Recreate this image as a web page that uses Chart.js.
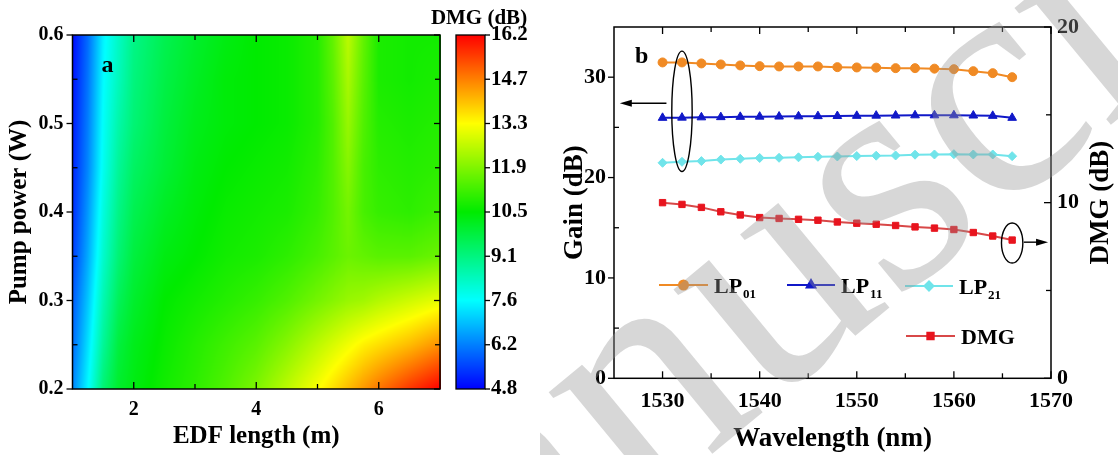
<!DOCTYPE html>
<html>
<head>
<meta charset="utf-8">
<script src="https://cdn.jsdelivr.net/npm/chart.js@4.4.1/dist/chart.umd.min.js"></script>
<style>
  html, body { margin: 0; padding: 0; background: #fff; }
  #wrap { position: relative; width: 1118px; height: 455px; overflow: hidden; }
  #boxA { position: absolute; left: 0; top: 0; width: 560px; height: 455px; }
  #boxB { position: absolute; left: 540px; top: 0; width: 578px; height: 455px; }
</style>
</head>
<body>
<div id="wrap">
  <div id="boxA"><canvas id="chartA" width="560" height="455"></canvas></div>
  <div id="boxB"><canvas id="chartB" width="578" height="455"></canvas></div>
</div>
<script>
/* ---- panel a : DMG map (EDF length x pump power) ---- */
var edfLength = [1, 1.25, 1.5, 1.75, 2, 2.5, 3, 3.5, 4, 4.5, 5, 5.25, 5.5, 5.75, 6, 6.5, 7];
var pumpPower = [0.2, 0.25, 0.3, 0.35, 0.4, 0.45, 0.5, 0.55, 0.6];
// one row per pump power, one column per EDF length
var dmgMap = [
  [6.3, 7.6, 9.2, 10.0, 10.3, 10.7, 11.0, 11.4, 11.9, 12.6, 13.3, 13.7, 14.1, 14.5, 14.9, 15.6, 16.2],
  [6.0, 7.3, 8.8, 9.8, 10.2, 10.6, 10.9, 11.2, 11.5, 12.0, 12.6, 12.9, 13.2, 13.5, 13.7, 14.1, 14.6],
  [5.8, 7.0, 8.5, 9.5, 10.0, 10.5, 10.7, 10.9, 11.1, 11.4, 11.8, 12.0, 12.2, 12.3, 12.5, 12.8, 13.1],
  [5.5, 6.7, 8.2, 9.2, 9.8, 10.3, 10.5, 10.7, 10.8, 11.0, 11.3, 11.5, 11.7, 11.6, 11.5, 11.5, 11.7],
  [5.3, 6.5, 8.0, 9.0, 9.6, 10.1, 10.4, 10.6, 10.7, 10.8, 11.1, 11.4, 11.8, 11.3, 11.1, 11.0, 11.2],
  [5.2, 6.3, 7.8, 8.8, 9.4, 9.9, 10.3, 10.5, 10.6, 10.7, 11.0, 11.4, 12.0, 11.3, 11.0, 10.9, 11.0],
  [5.1, 6.2, 7.7, 8.6, 9.2, 9.8, 10.2, 10.4, 10.5, 10.6, 10.9, 11.4, 12.2, 11.4, 10.9, 10.8, 10.9],
  [5.0, 6.1, 7.6, 8.4, 9.1, 9.7, 10.1, 10.4, 10.5, 10.6, 10.9, 11.5, 12.4, 11.5, 10.8, 10.7, 10.8],
  [4.9, 6.0, 7.5, 8.3, 9.0, 9.6, 10.0, 10.3, 10.5, 10.6, 10.9, 11.6, 12.6, 11.6, 10.8, 10.7, 10.7]
];
var edfTicks = [2, 4, 6];
var pumpTicks = [0.2, 0.3, 0.4, 0.5, 0.6];
var cbLabels = ['4.8', '6.2', '7.6', '9.1', '10.5', '11.9', '13.3', '14.7', '16.2'];

/* ---- panel b : gain and DMG vs wavelength ---- */
var wavelength = [1530, 1532, 1534, 1536, 1538, 1540, 1542, 1544, 1546, 1548, 1550, 1552, 1554, 1556, 1558, 1560, 1562, 1564, 1566];
var gainLP01 = [31.47, 31.47, 31.37, 31.27, 31.17, 31.1, 31.07, 31.07, 31.07, 31.0, 30.97, 30.95, 30.9, 30.9, 30.85, 30.8, 30.6, 30.4, 30.0];
var gainLP11 = [25.95, 25.97, 26.0, 26.02, 26.05, 26.07, 26.08, 26.1, 26.12, 26.13, 26.15, 26.17, 26.18, 26.2, 26.2, 26.2, 26.18, 26.15, 25.95];
var gainLP21 = [21.47, 21.57, 21.64, 21.79, 21.87, 21.95, 21.97, 22.02, 22.07, 22.1, 22.14, 22.18, 22.2, 22.28, 22.3, 22.33, 22.3, 22.3, 22.13];
var dmgCurve = [10.0, 9.9, 9.73, 9.48, 9.3, 9.15, 9.1, 9.05, 9.0, 8.9, 8.83, 8.77, 8.7, 8.62, 8.55, 8.47, 8.3, 8.1, 7.87];
var waveTicks = [1530, 1540, 1550, 1560, 1570];
var gainTicks = [0, 10, 20, 30];
var dmgTicks = [0, 10, 20];

var FONT = '"Liberation Serif", "Times New Roman", serif';

/* ---- helpers ---- */
function findCell(arr, v) {
  for (var i = 0; i < arr.length - 2; i++) if (v < arr[i + 1]) return i;
  return arr.length - 2;
}

function sampleMap(x, y) {
  var i = findCell(edfLength, x), j = findCell(pumpPower, y);
  var tx = (x - edfLength[i]) / (edfLength[i + 1] - edfLength[i]);
  var ty = (y - pumpPower[j]) / (pumpPower[j + 1] - pumpPower[j]);
  tx = Math.max(0, Math.min(1, tx)); ty = Math.max(0, Math.min(1, ty));
  var a = dmgMap[j][i], b = dmgMap[j][i + 1], c = dmgMap[j + 1][i], d = dmgMap[j + 1][i + 1];
  return (a * (1 - tx) + b * tx) * (1 - ty) + (c * (1 - tx) + d * tx) * ty;
}

var CB_MIN = parseFloat(cbLabels[0]);
var CB_MAX = parseFloat(cbLabels[cbLabels.length - 1]);
var STOPS = [[0, 0, 0, 255], [0.25, 0, 255, 255], [0.5, 0, 235, 0], [0.75, 255, 255, 0], [1, 255, 0, 0]];

function rainbow(v) {
  var t = (v - CB_MIN) / (CB_MAX - CB_MIN);
  t = Math.max(0, Math.min(1, t));
  for (var k = 0; k < STOPS.length - 1; k++) {
    var s0 = STOPS[k], s1 = STOPS[k + 1];
    if (t <= s1[0]) {
      var f = (t - s0[0]) / (s1[0] - s0[0]);
      return [s0[1] + (s1[1] - s0[1]) * f, s0[2] + (s1[2] - s0[2]) * f, s0[3] + (s1[3] - s0[3]) * f];
    }
  }
  return [255, 0, 0];
}

function fixedTicks(list) {
  return function (scale) {
    scale.ticks = list.map(function (v) { return { value: v }; });
  };
}

// fixes an axis box size and drops the label overhang padding
function boxSize(prop, size) {
  return function (s) {
    s[prop] = size;
    s.paddingTop = 0; s.paddingBottom = 0; s.paddingLeft = 0; s.paddingRight = 0;
  };
}

// tick marks: positive length = into the plot, negative = outward
function drawAxisTicks(chart, specs) {
  var ctx = chart.ctx, a = chart.chartArea;
  ctx.save();
  ctx.strokeStyle = '#000';
  ctx.lineWidth = 1.3;
  specs.forEach(function (s) {
    var sc = chart.scales[s.scale];
    var majors = sc.ticks.map(function (t) { return t.value; });
    var minors = [];
    for (var i = 0; i < majors.length - 1; i++) minors.push((majors[i] + majors[i + 1]) / 2);
    var step = majors[1] - majors[0];
    var lo = majors[0] - step / 2, hi = majors[majors.length - 1] + step / 2;
    if (lo > sc.min + 1e-9) minors.push(lo);
    if (hi < sc.max - 1e-9) minors.push(hi);
    function mark(v, len) {
      var p = sc.getPixelForValue(v);
      ctx.beginPath();
      if (s.edge === 'bottom') { ctx.moveTo(p, a.bottom); ctx.lineTo(p, a.bottom - len); }
      if (s.edge === 'top')    { ctx.moveTo(p, a.top);    ctx.lineTo(p, a.top + len); }
      if (s.edge === 'left')   { ctx.moveTo(a.left, p);   ctx.lineTo(a.left + len, p); }
      if (s.edge === 'right')  { ctx.moveTo(a.right, p);  ctx.lineTo(a.right - len, p); }
      ctx.stroke();
    }
    majors.forEach(function (v) { mark(v, s.major); });
    minors.forEach(function (v) { mark(v, s.minor); });
  });
  ctx.lineWidth = 1.5;
  ctx.strokeRect(a.left, a.top, a.right - a.left, a.bottom - a.top);
  ctx.restore();
}

function tickFont(size) { return { family: FONT, size: size, weight: 'bold' }; }
function titleFont(size) { return { family: FONT, size: size, weight: 'bold' }; }

/* ---- panel a plugins ---- */
var heatPlugin = {
  id: 'heat',
  beforeDatasetsDraw: function (chart) {
    var a = chart.chartArea, xs = chart.scales.x, ys = chart.scales.y;
    var w = Math.round(a.right - a.left), h = Math.round(a.bottom - a.top);
    var off = document.createElement('canvas');
    off.width = w; off.height = h;
    var octx = off.getContext('2d');
    var img = octx.createImageData(w, h);
    for (var j = 0; j < h; j++) {
      var pv = ys.getValueForPixel(a.top + j + 0.5);
      for (var i = 0; i < w; i++) {
        var lv = xs.getValueForPixel(a.left + i + 0.5);
        var c = rainbow(sampleMap(lv, pv));
        var k = (j * w + i) * 4;
        img.data[k] = c[0]; img.data[k + 1] = c[1]; img.data[k + 2] = c[2]; img.data[k + 3] = 255;
      }
    }
    octx.putImageData(img, 0, 0);
    chart.ctx.drawImage(off, a.left, a.top);
  },
  afterDraw: function (chart) {
    drawAxisTicks(chart, [
      { scale: 'x', edge: 'bottom', major: 7, minor: 5 },
      { scale: 'x', edge: 'top', major: 7, minor: 5 },
      { scale: 'y', edge: 'left', major: -6, minor: 5 },
      { scale: 'y', edge: 'right', major: 6, minor: 5 }
    ]);
    var ctx = chart.ctx, cb = chart.scales.cb;
    var x0 = cb.left + 16, x1 = cb.left + 45;
    ctx.save();
    for (var y = Math.floor(cb.top); y < cb.bottom; y++) {
      var c = rainbow(cb.getValueForPixel(y + 0.5));
      ctx.fillStyle = 'rgb(' + Math.round(c[0]) + ',' + Math.round(c[1]) + ',' + Math.round(c[2]) + ')';
      ctx.fillRect(x0, y, x1 - x0, 1);
    }
    ctx.strokeStyle = '#000';
    ctx.lineWidth = 1.3;
    ctx.strokeRect(x0, cb.top, x1 - x0, cb.bottom - cb.top);
    cb.ticks.forEach(function (t) {
      var p = cb.getPixelForValue(t.value);
      ctx.beginPath(); ctx.moveTo(x1, p); ctx.lineTo(x1 + 5, p); ctx.stroke();
    });
    ctx.fillStyle = '#000';
    ctx.font = 'bold 21px ' + FONT;
    ctx.textAlign = 'center';
    ctx.textBaseline = 'alphabetic';
    ctx.fillText('DMG (dB)', x1 - 6, 24);
    ctx.font = 'bold 24px ' + FONT;
    ctx.fillText('a', chart.chartArea.left + 35, 72);
    ctx.restore();
  }
};

var heatPoints = [];
pumpPower.forEach(function (p, j) {
  edfLength.forEach(function (l, i) { heatPoints.push({ x: l, y: p, v: dmgMap[j][i] }); });
});

new Chart(document.getElementById('chartA'), {
  type: 'scatter',
  data: { datasets: [{ data: heatPoints, pointRadius: 0, pointHoverRadius: 0 }] },
  options: {
    responsive: false,
    animation: false,
    layout: { padding: { top: 35, left: 0, right: 0, bottom: 0 } },
    plugins: { legend: { display: false }, tooltip: { enabled: false } },
    scales: {
      x: {
        type: 'linear', min: 1, max: 7,
        afterBuildTicks: fixedTicks(edfTicks),
        afterFit: boxSize('height', 66),
        grid: { display: false, drawTicks: false }, border: { display: false },
        ticks: { color: '#000', font: tickFont(20), padding: 9, callback: function (v) { return String(v); } },
        title: { display: true, text: 'EDF length (m)', color: '#000', font: titleFont(25), padding: { top: 0, bottom: 3 } }
      },
      y: {
        type: 'linear', min: 0.2, max: 0.6,
        afterBuildTicks: fixedTicks(pumpTicks),
        afterFit: boxSize('width', 72.5),
        grid: { display: false, drawTicks: false }, border: { display: false },
        ticks: { color: '#000', font: tickFont(20), padding: 9, callback: function (v) { return v.toFixed(1); } },
        title: { display: true, text: 'Pump power (W)', color: '#000', font: titleFont(25), padding: { top: 5, bottom: 0 } }
      },
      cb: {
        type: 'linear', position: 'right', min: CB_MIN, max: CB_MAX,
        afterBuildTicks: function (s) {
          s.ticks = cbLabels.map(function (l, i) {
            return { value: s.min + i * (s.max - s.min) / (cbLabels.length - 1) };
          });
        },
        afterFit: boxSize('width', 120),
        grid: { display: false, drawTicks: false }, border: { display: false },
        ticks: { color: '#000', font: tickFont(21), padding: 51, callback: function (v, i) { return cbLabels[i]; } }
      }
    }
  },
  plugins: [heatPlugin]
});

/* ---- panel b plugins ---- */
var leftGroupMark = { x: 1532, y: 26.6, rx: 1.05, ry: 6.0, arrowFrom: 1530.4, arrowTo: 1525.6, arrowY: 27.4 };
var rightGroupMark = { x: 1566, y: 7.7, rx: 1.1, ry: 1.14, arrowFrom: 1567.2, arrowTo: 1569.7, arrowY: 7.75 };

var legendSlots = [
  { x0: 119, x1: 168, y: 285 },
  { x0: 247, x1: 295, y: 285 },
  { x0: 365, x1: 413, y: 286 },
  { x0: 366, x1: 415, y: 336 }
];

function arrow(ctx, xa, xb, y) {
  var dir = xb > xa ? 1 : -1;
  ctx.beginPath(); ctx.moveTo(xa, y); ctx.lineTo(xb - dir * 9, y); ctx.stroke();
  ctx.beginPath();
  ctx.moveTo(xb, y); ctx.lineTo(xb - dir * 12, y - 3.5); ctx.lineTo(xb - dir * 12, y + 3.5);
  ctx.closePath(); ctx.fill();
}

function markGroup(chart, m, yId) {
  var ctx = chart.ctx, xs = chart.scales.x, ys = chart.scales[yId];
  var cx = xs.getPixelForValue(m.x), cy = ys.getPixelForValue(m.y);
  var rx = Math.abs(xs.getPixelForValue(m.x + m.rx) - cx);
  var ry = Math.abs(ys.getPixelForValue(m.y + m.ry) - cy);
  ctx.beginPath(); ctx.ellipse(cx, cy, rx, ry, 0, 0, Math.PI * 2); ctx.stroke();
  arrow(ctx, xs.getPixelForValue(m.arrowFrom), xs.getPixelForValue(m.arrowTo), ys.getPixelForValue(m.arrowY));
}

var gainPlugin = {
  id: 'gainDeco',
  afterDraw: function (chart) {
    drawAxisTicks(chart, [
      { scale: 'x', edge: 'bottom', major: 7, minor: 5 },
      { scale: 'x', edge: 'top', major: 7, minor: 5 },
      { scale: 'y', edge: 'left', major: -6, minor: 5 },
      { scale: 'y2', edge: 'right', major: 7, minor: 5 }
    ]);
    var ctx = chart.ctx, a = chart.chartArea;
    ctx.save();
    ctx.strokeStyle = '#000'; ctx.fillStyle = '#000'; ctx.lineWidth = 1.4;
    markGroup(chart, leftGroupMark, 'y');
    markGroup(chart, rightGroupMark, 'y2');

    // legend
    chart.data.datasets.forEach(function (ds, i) {
      var s = legendSlots[i];
      ctx.strokeStyle = ds.borderColor; ctx.lineWidth = ds.borderWidth;
      ctx.beginPath(); ctx.moveTo(s.x0, s.y); ctx.lineTo(s.x1, s.y); ctx.stroke();
      ctx.fillStyle = ds.pointBackgroundColor; ctx.strokeStyle = ds.pointBackgroundColor;
      Chart.helpers.drawPoint(ctx, { pointStyle: ds.pointStyle, radius: ds.pointRadius, rotation: 0, borderWidth: 1 },
        (s.x0 + s.x1) / 2, s.y);
      ctx.fillStyle = '#000';
      ctx.textAlign = 'left'; ctx.textBaseline = 'alphabetic';
      ctx.font = 'bold 22px ' + FONT;
      var parts = ds.label.split('_');
      ctx.fillText(parts[0], s.x1 + 6, s.y + 8);
      if (parts[1]) {
        var w = ctx.measureText(parts[0]).width;
        ctx.font = 'bold 13px ' + FONT;
        ctx.fillText(parts[1], s.x1 + 6 + w + 1, s.y + 13);
      }
    });

    ctx.fillStyle = '#000';
    ctx.font = 'bold 24px ' + FONT;
    ctx.textAlign = 'left';
    ctx.fillText('b', a.left + 21, 63);

    // right axis title reads bottom to top, like the left one
    ctx.save();
    ctx.translate(561, (a.top + a.bottom) / 2);
    ctx.rotate(-Math.PI / 2);
    ctx.font = 'bold 27px ' + FONT;
    ctx.textAlign = 'center';
    ctx.textBaseline = 'middle';
    ctx.fillText('DMG (dB)', 0, 0);
    ctx.restore();

    // page watermark, only a slice of it falls on this figure
    ctx.translate(-240, 794);
    ctx.rotate(-0.69);
    ctx.font = '330px ' + FONT;
    ctx.textAlign = 'left';
    ctx.textBaseline = 'alphabetic';
    ctx.fillStyle = 'rgba(150,150,150,0.38)';
    ctx.fillText('Manuscript', 0, 0);
    ctx.restore();
  }
};

function series(values) {
  return values.map(function (v, i) { return { x: wavelength[i], y: v }; });
}

function lineSet(label, values, color, markColor, style, radius, axis) {
  return {
    label: label, data: series(values), yAxisID: axis,
    borderColor: color, borderWidth: 2,
    pointStyle: style, pointRadius: radius, pointHoverRadius: radius,
    pointBackgroundColor: markColor, pointBorderColor: markColor, pointBorderWidth: 1,
    tension: 0, clip: false
  };
}

new Chart(document.getElementById('chartB'), {
  type: 'line',
  data: {
    datasets: [
      lineSet('LP_01', gainLP01, '#F08A24', '#F08A24', 'circle', 4.5, 'y'),
      lineSet('LP_11', gainLP11, '#1018C8', '#1018C8', 'triangle', 5, 'y'),
      lineSet('LP_21', gainLP21, '#70E4EA', '#70E4EA', 'rectRot', 4.5, 'y'),
      lineSet('DMG', dmgCurve, '#D84848', '#E8141E', 'rect', 4.5, 'y2')
    ]
  },
  options: {
    responsive: false,
    animation: false,
    layout: { padding: { top: 27, left: 0, right: 0, bottom: 0 } },
    plugins: { legend: { display: false }, tooltip: { enabled: false } },
    scales: {
      x: {
        type: 'linear', min: 1525, max: 1570,
        afterBuildTicks: fixedTicks(waveTicks),
        afterFit: boxSize('height', 76.7),
        grid: { display: false, drawTicks: false }, border: { display: false },
        ticks: { color: '#000', font: tickFont(22), padding: 10, callback: function (v) { return String(v); } },
        title: { display: true, text: 'Wavelength (nm)', color: '#000', font: titleFont(27), padding: { top: 0, bottom: 0 } }
      },
      y: {
        type: 'linear', position: 'left', min: 0, max: 35,
        afterBuildTicks: fixedTicks(gainTicks),
        afterFit: boxSize('width', 74),
        grid: { display: false, drawTicks: false }, border: { display: false },
        ticks: { color: '#000', font: tickFont(22), padding: 8, callback: function (v) { return String(v); } },
        title: { display: true, text: 'Gain (dB)', color: '#000', font: titleFont(27), padding: { top: 19, bottom: 0 } }
      },
      y2: {
        type: 'linear', position: 'right', min: 0, max: 20,
        afterBuildTicks: fixedTicks(dmgTicks),
        afterFit: boxSize('width', 67),
        grid: { display: false, drawTicks: false }, border: { display: false },
        ticks: { color: '#000', font: tickFont(22), padding: 6, callback: function (v) { return String(v); } }
      }
    }
  },
  plugins: [gainPlugin]
});
</script>
</body>
</html>
